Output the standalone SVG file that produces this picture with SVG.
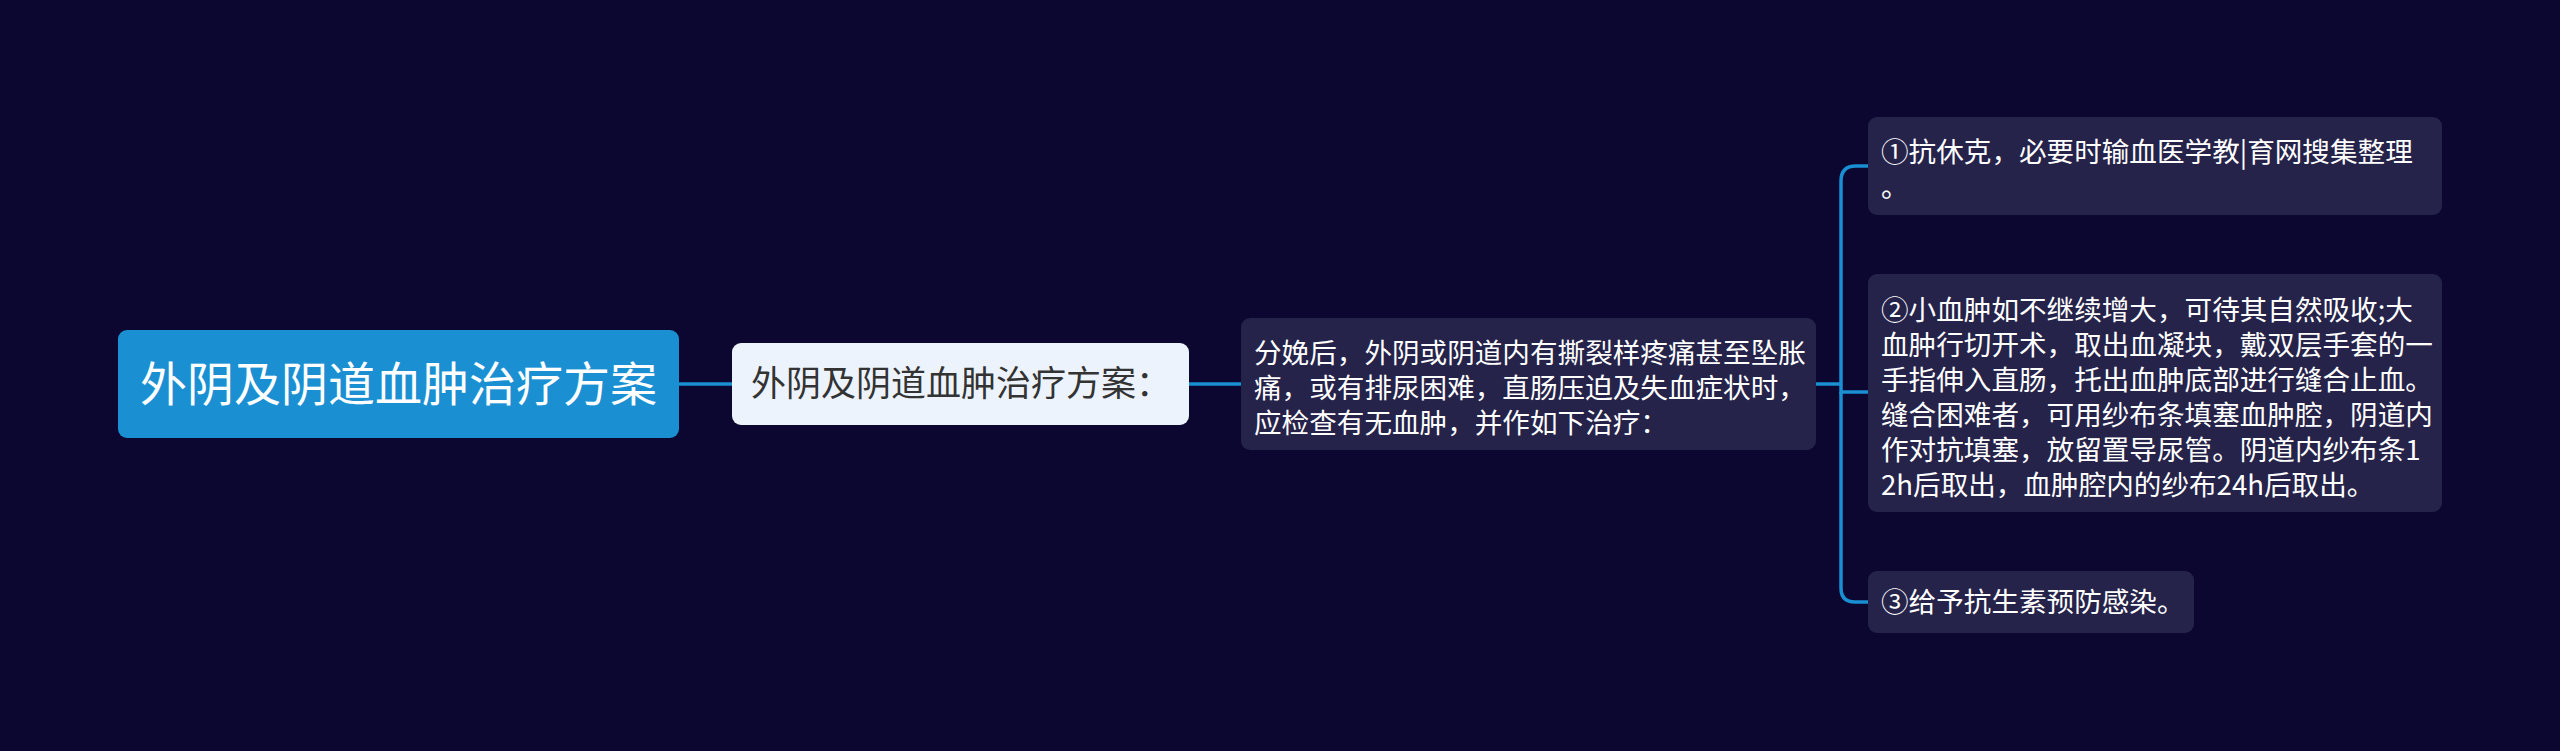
<svg xmlns="http://www.w3.org/2000/svg" width="2560" height="751" viewBox="0 0 2560 751">
<style>
.bg{fill:#0b0731}
.conn{fill:none;stroke:#1a8fd2;stroke-width:3.5}
.t{font-family:"Noto Sans CJK SC","Noto Sans",sans-serif}
.dark{fill:#26234a}
.wt{fill:#ffffff;font-size:27.6px}
</style>
<rect class="bg" x="0" y="0" width="2560" height="751"/>
<g id="connectors">
<path class="conn" d="M679 384 H732"/>
<path class="conn" d="M1189 384 H1241"/>
<path class="conn" d="M1816 384 H1841"/>
<path class="conn" d="M1841 384 V181 Q1841 166 1856 166 H1868"/>
<path class="conn" d="M1841 384 V392 H1868"/>
<path class="conn" d="M1841 392 V588 Q1841 602 1855 602 H1868"/>
</g>
<g id="root">
<rect x="118" y="330" width="561" height="108" rx="9" fill="#1a90d3"/>
<text class="t" x="398.5" y="401" text-anchor="middle" font-size="47" fill="#ffffff">外阴及阴道血肿治疗方案</text>
</g>
<g id="n1">
<rect x="732" y="343" width="457" height="82" rx="9" fill="#edf3fd"/>
<text class="t" x="751" y="396" font-size="35" fill="#333333">外阴及阴道血肿治疗方案：</text>
</g>
<g id="n2">
<rect class="dark" x="1241" y="318" width="575" height="132" rx="9"/>
<text class="t wt" x="1254" y="363">分娩后，外阴或阴道内有撕裂样疼痛甚至坠胀</text>
<text class="t wt" x="1254" y="398">痛，或有排尿困难，直肠压迫及失血症状时，</text>
<text class="t wt" x="1254" y="433">应检查有无血肿，并作如下治疗：</text>
</g>
<g id="c1">
<rect class="dark" x="1868" y="117" width="574" height="98" rx="9"/>
<text class="t wt" x="1881" y="162">①抗休克，必要时输血医学教|育网搜集整理</text>
<text class="t wt" x="1881" y="197">。</text>
</g>
<g id="c2">
<rect class="dark" x="1868" y="274" width="574" height="238" rx="9"/>
<text class="t wt" x="1881" y="320">②小血肿如不继续增大，可待其自然吸收;大</text>
<text class="t wt" x="1881" y="355">血肿行切开术，取出血凝块，戴双层手套的一</text>
<text class="t wt" x="1881" y="390">手指伸入直肠，托出血肿底部进行缝合止血。</text>
<text class="t wt" x="1881" y="425">缝合困难者，可用纱布条填塞血肿腔，阴道内</text>
<text class="t wt" x="1881" y="460">作对抗填塞，放留置导尿管。阴道内纱布条1</text>
<text class="t wt" x="1881" y="495">2h后取出，血肿腔内的纱布24h后取出。</text>
</g>
<g id="c3">
<rect class="dark" x="1868" y="571" width="326" height="62" rx="9"/>
<text class="t wt" x="1881" y="612">③给予抗生素预防感染。</text>
</g>
</svg>
